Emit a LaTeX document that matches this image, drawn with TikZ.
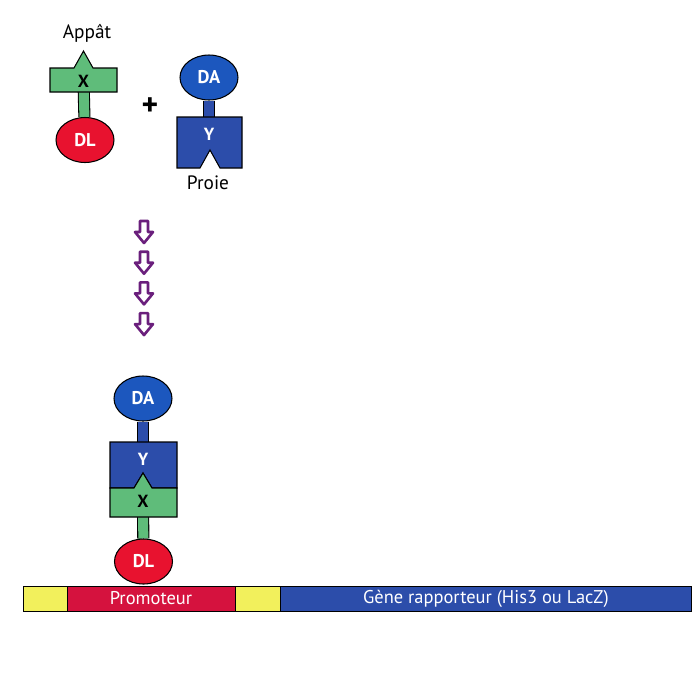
\documentclass[tikz,border=0pt]{standalone}
\usepackage{fontspec}
\setmainfont{PT Sans}
\definecolor{baitgreen}{HTML}{5FBC7A}
\definecolor{dlred}{HTML}{E8122F}
\definecolor{preyblue}{HTML}{2C4DAA}
\definecolor{dablue}{HTML}{1C57BE}
\definecolor{boxyellow}{HTML}{F2F05C}
\definecolor{promred}{HTML}{D5123E}
\definecolor{stepviolet}{HTML}{6A1F7C}
\usetikzlibrary{shapes.geometric, positioning, backgrounds}

\begin{document}
\begin{tikzpicture}[
  x=0.02cm, y=-0.02cm,
  every node/.style={font=\fontsize{11}{12}\selectfont},
  blob/.style={ellipse, draw=black, line width=0.6pt, minimum width=1.16cm,
               minimum height=0.9cm, inner sep=0pt, text=white,
               font=\fontsize{10.5}{12}\selectfont\bfseries},
  dl/.style={blob, fill=dlred},
  da/.style={blob, fill=dablue},
  greenpart/.style={fill=baitgreen, draw=black, line width=0.6pt},
  bluepart/.style={fill=preyblue, draw=black, line width=0.6pt},
  tag/.style={inner sep=0pt, font=\fontsize{10}{12}\selectfont\bfseries},
  stem/.style={draw=black, line width=0.6pt, double distance=0.2cm},
  hollow/.style={draw=stepviolet, fill=white, line width=1.5pt, line join=round},
  segment/.style={rectangle, draw=black, line width=0.5pt, minimum height=0.5cm,
                  inner sep=0pt, outer sep=0pt, text=white,
                  font=\fontsize{10.5}{12}\selectfont},
]
\useasboundingbox (0,0) rectangle (694,677);

% bait: X fused to DL
\node (appat) at (87,33) {Appât};
\path[greenpart] (50,68) -- (74,68) -- (83.5,51) -- (93,68) -- (117,68)
  -- (117,92) -- (50,92) -- cycle;
\node[tag] (x1) at (83.5,81) {X};
\node[dl] (dl1) at (85,140) {DL};

\node (plus) at (150,107) {\fontsize{18}{18}\selectfont\bfseries +};

% prey: Y fused to DA
\node[da] (da1) at (209,77.5) {DA};
\path[bluepart] (177,117) -- (242,117) -- (242,168) -- (220,168) -- (210,150)
  -- (200,168) -- (177,168) -- cycle;
\node[tag, text=white] (y1) at (209,134) {Y};
\node (proie) at (208,183) {Proie};

% steps
\foreach \t in {221,251.7,282.4,313.1}
  \path[hollow] (140,\t) -- (148,\t) -- (148,\t+11) -- (153,\t+11) -- (144,\t+22)
    -- (135,\t+11) -- (140,\t+11) -- cycle;

% complex on the promoter
\node[da] (da2) at (143,398.5) {DA};
\path[bluepart] (110,442) -- (177,442) -- (177,488) -- (152,488) -- (143,473)
  -- (134,488) -- (110,488) -- cycle;
\path[greenpart] (110,488) -- (134,488) -- (143,473) -- (152,488) -- (177,488)
  -- (177,517) -- (110,517) -- cycle;
\node[tag, text=white] (y2) at (143,459) {Y};
\node[tag] (x2) at (143,501) {X};
\node[dl] (dl2) at (143.5,561.5) {DL};

\begin{scope}[on background layer]
  \draw[stem, double=baitgreen] (x1) -- (dl1);
  \draw[stem, double=preyblue] (da1) -- (y1);
  \draw[stem, double=preyblue] (da2) -- (y2);
  \draw[stem, double=baitgreen] (x2) -- (dl2);
\end{scope}

% DNA
\node[segment, fill=boxyellow, minimum width=0.88cm, anchor=west] (up) at (23,598.5) {};
\node[segment, fill=promred, minimum width=3.36cm, right=0pt of up] (prom) {Promoteur};
\node[segment, fill=boxyellow, minimum width=0.9cm, right=0pt of prom] (gap) {};
\node[segment, fill=preyblue, minimum width=8.24cm, right=0pt of gap] (rep)
  {Gène rapporteur (His3 ou LacZ)};

\end{tikzpicture}
\end{document}
